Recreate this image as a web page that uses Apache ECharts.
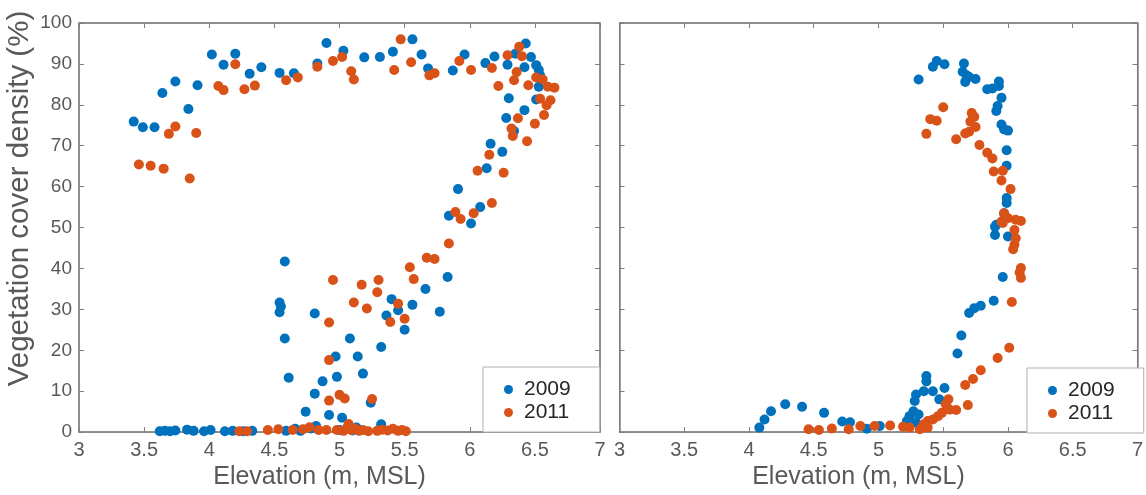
<!DOCTYPE html>
<html>
<head>
<meta charset="utf-8">
<title>Vegetation cover density vs elevation</title>
<script src="https://cdn.jsdelivr.net/npm/echarts@6/dist/echarts.min.js"></script>
<style>
    html, body { margin: 0; padding: 0; background: #fff; }
    #main { width: 1146px; height: 495px; }
</style>
</head>
<body>
<div id="main"></div>
<script>
// 数据 (elevation m, cover %)
var years = ['2009', '2011'];
var xTicks = [3, 3.5, 4, 4.5, 5, 5.5, 6, 6.5, 7];
var yTicks = [0, 10, 20, 30, 40, 50, 60, 70, 80, 90, 100];

// left panel
var left2009 = [
    [3.42, 75.9], [3.49, 74.5], [3.58, 74.5], [3.64, 82.9], [3.74, 85.7], [3.84, 79.0], [3.91, 84.8],
    [4.02, 92.3], [4.11, 89.8], [4.20, 92.5], [4.31, 87.6], [4.40, 89.2], [4.54, 87.8], [4.65, 87.7],
    [4.83, 90.1], [4.90, 95.1], [5.03, 93.2], [5.19, 91.6], [5.31, 91.7], [5.41, 93.0], [5.56, 96.0],
    [5.63, 92.3], [5.68, 88.9], [5.87, 88.4], [5.96, 92.3], [6.12, 90.2], [6.19, 91.8], [6.29, 89.8],
    [6.35, 92.5], [6.43, 95.0], [6.42, 89.2], [6.47, 91.7], [6.51, 89.7], [6.53, 88.5], [6.54, 87.2],
    [6.53, 84.4], [6.51, 81.3], [6.30, 81.6], [6.42, 78.7], [6.28, 76.8], [6.34, 73.6], [6.16, 70.5],
    [6.25, 68.5], [6.13, 64.5], [5.91, 59.4], [5.84, 52.9], [6.08, 55.0], [6.01, 51.0],
    [5.83, 37.9], [5.66, 35.0], [5.77, 29.4], [5.56, 31.1], [5.40, 32.5], [5.36, 28.5], [5.45, 29.8],
    [5.50, 25.0], [5.32, 20.8], [5.08, 22.9], [5.14, 18.5], [5.18, 14.3], [4.97, 18.5], [4.98, 13.5],
    [5.24, 7.2], [5.02, 3.5], [5.32, 1.9], [5.13, 1.1],
    [4.58, 41.7], [4.54, 31.7], [4.55, 30.7], [4.54, 29.3], [4.58, 22.9], [4.61, 13.3], [4.81, 29.0],
    [4.87, 12.4], [4.81, 9.4], [4.74, 5.0], [4.92, 4.2],
    [3.62, 0.2], [3.66, 0.3], [3.70, 0.2], [3.74, 0.4], [3.83, 0.6], [3.88, 0.3], [3.96, 0.2],
    [4.01, 0.5], [4.12, 0.2], [4.18, 0.3], [4.26, 0.2], [4.33, 0.3], [4.59, 0.3], [4.70, 0.3],
    [4.82, 1.5], [4.66, 0.8], [4.78, 0.9], [5.00, 0.5], [5.10, 0.4]
];
var left2011 = [
    [3.46, 65.4], [3.55, 65.1], [3.65, 64.4], [3.69, 72.9], [3.74, 74.7], [3.85, 62.0], [3.90, 73.1],
    [4.07, 84.6], [4.11, 83.6], [4.20, 89.9], [4.27, 83.8], [4.35, 84.7], [4.59, 86.0], [4.68, 86.7],
    [4.83, 89.3], [4.95, 90.7], [5.02, 91.7], [5.09, 88.2], [5.11, 86.2], [5.42, 88.5], [5.47, 96.0],
    [5.55, 90.4], [5.69, 87.2], [5.73, 87.7], [5.92, 90.7], [6.01, 88.5], [6.17, 89.0], [6.22, 84.6],
    [6.29, 92.1], [6.38, 94.2], [6.40, 91.9], [6.36, 88.0], [6.34, 86.0], [6.45, 84.8], [6.51, 86.7],
    [6.56, 86.2], [6.60, 84.4], [6.65, 84.2], [6.54, 81.5], [6.62, 81.1], [6.59, 79.9], [6.57, 77.5],
    [6.50, 75.4], [6.37, 76.7], [6.32, 74.2], [6.33, 72.4], [6.44, 71.1], [6.15, 67.8], [6.26, 63.4],
    [6.06, 63.9], [6.17, 56.0], [5.89, 53.8], [5.93, 52.1], [6.03, 53.5],
    [5.84, 46.1], [5.67, 42.6], [5.73, 42.3], [5.54, 40.3], [5.57, 37.4], [4.95, 37.2], [5.17, 36.0],
    [5.30, 37.2], [5.29, 34.2], [5.11, 31.7], [5.21, 30.2], [5.45, 31.4], [5.39, 26.9], [5.50, 27.7],
    [4.92, 26.8], [4.92, 17.6], [4.92, 7.7], [5.00, 9.1], [5.04, 8.2], [5.25, 8.1],
    [4.23, 0.2], [4.29, 0.2], [4.45, 0.5], [4.53, 0.7], [4.64, 0.5], [4.72, 0.7], [4.77, 1.2],
    [4.84, 0.5], [4.90, 0.5], [4.98, 0.5], [5.03, 0.3], [5.06, 1.2], [5.09, 0.5], [5.12, 0.8],
    [5.15, 0.3], [5.18, 0.5], [5.22, 0.2], [5.29, 0.3], [5.33, 0.6], [5.37, 0.4], [5.41, 0.8],
    [5.45, 0.3], [5.48, 0.5], [5.51, 0.2], [5.07, 2.0]
];

// right panel
var right2009 = [
    [4.08, 1.1], [4.12, 3.1], [4.17, 5.1], [4.28, 6.8], [4.41, 6.2], [4.58, 4.7], [4.72, 2.6],
    [4.78, 2.4], [4.91, 0.8], [5.01, 1.5], [5.20, 1.5], [5.22, 2.7], [5.24, 3.9], [5.27, 5.1],
    [5.28, 7.6], [5.29, 9.2], [5.29, 2.3], [5.31, 4.3], [5.35, 10.0], [5.37, 12.4], [5.37, 13.7],
    [5.42, 10.0], [5.47, 8.0], [5.51, 10.8], [5.61, 19.2], [5.64, 23.6], [5.70, 29.1], [5.74, 30.3],
    [5.79, 30.9], [5.89, 32.1], [5.96, 37.9], [5.90, 48.2], [5.90, 50.2], [6.00, 47.8], [5.91, 50.7],
    [5.97, 53.5], [5.99, 56.0], [5.99, 57.2], [5.99, 65.1], [5.99, 68.9], [6.00, 73.7], [5.97, 74.0],
    [5.95, 75.2], [5.91, 78.5], [5.92, 79.7], [5.95, 81.7], [5.93, 84.6], [5.93, 85.7], [5.88, 84.0],
    [5.84, 83.8], [5.75, 86.3], [5.70, 86.8], [5.67, 85.6], [5.68, 87.2], [5.65, 88.1], [5.66, 90.1],
    [5.51, 89.9], [5.45, 90.7], [5.42, 89.3], [5.31, 86.2]
];
var right2011 = [
    [4.46, 0.7], [4.54, 0.5], [4.64, 0.9], [4.77, 0.7], [4.86, 1.5], [4.97, 1.5], [5.09, 1.6],
    [5.19, 1.3], [5.24, 1.1], [5.32, 0.7], [5.35, 1.9], [5.38, 1.1], [5.38, 2.7], [5.42, 3.1],
    [5.46, 3.9], [5.49, 4.7], [5.52, 6.8], [5.54, 8.0], [5.55, 5.5], [5.60, 5.4], [5.69, 6.6],
    [5.67, 11.5], [5.73, 13.0], [5.79, 15.1], [5.92, 18.1], [6.01, 20.6], [6.03, 31.8], [6.10, 37.7],
    [6.09, 39.0], [6.10, 40.1], [6.04, 44.7], [6.05, 45.8], [6.06, 47.4], [6.05, 49.4], [5.95, 51.5],
    [5.96, 51.1], [5.97, 53.5], [6.00, 52.3], [6.06, 51.9], [6.10, 51.6], [6.02, 59.4], [5.95, 61.5],
    [5.96, 63.9], [5.89, 63.7], [5.88, 66.9], [5.84, 68.3], [5.78, 70.2], [5.67, 73.0], [5.70, 73.4],
    [5.75, 74.6], [5.71, 75.9], [5.74, 77.1], [5.72, 78.0], [5.60, 71.6], [5.37, 72.9], [5.45, 76.1],
    [5.40, 76.5], [5.50, 79.4]
];

var colors = ['#0072BD', '#D95319'];
var textColor = '#595959';
var lineColor = '#7f7f7f';

var myChart = echarts.init(document.getElementById('main'));

// x axis (bottom with labels, top mirror)
function xAxisOf(grid, pos, withLabel, withName) {
    return {
        type: 'value',
        gridIndex: grid,
        position: pos,
        min: xTicks[0],
        max: xTicks[xTicks.length - 1],
        interval: 0.5,
        name: withName ? 'Elevation (m, MSL)' : '',
        nameLocation: 'middle',
        nameGap: 31,
        nameTextStyle: {
            color: textColor,
            fontSize: 25,
            fontFamily: 'Liberation Sans',
            padding: [0, 40, 0, 0]
        },
        axisLine: { show: true, onZero: false, lineStyle: { color: lineColor, width: 1.5 } },
        axisTick: { show: true, inside: true, length: 5, lineStyle: { color: lineColor } },
        axisLabel: {
            show: withLabel,
            margin: 8,
            color: textColor,
            fontSize: 20,
            fontFamily: 'Liberation Sans'
        },
        splitLine: { show: false }
    };
}

function yAxisOf(grid, pos, withLabel, withName) {
    return {
        type: 'value',
        gridIndex: grid,
        position: pos,
        min: yTicks[0],
        max: yTicks[yTicks.length - 1],
        interval: 10,
        name: withName ? 'Vegetation cover density (%)' : '',
        nameLocation: 'middle',
        nameGap: 44,
        nameTextStyle: {
            color: textColor,
            fontSize: 29.5,
            fontFamily: 'Liberation Sans',
            padding: [0, 0, 0, 58]
        },
        axisLine: { show: true, onZero: false, lineStyle: { color: lineColor, width: 1.5 } },
        axisTick: { show: true, inside: true, length: 5, lineStyle: { color: lineColor } },
        axisLabel: {
            show: withLabel,
            margin: 7,
            color: textColor,
            fontSize: 19,
            fontFamily: 'Liberation Sans'
        },
        splitLine: { show: false }
    };
}

function legendAt(left, top) {
    return {
        left: left,
        top: top,
        orient: 'vertical',
        data: years,
        icon: 'circle',
        itemWidth: 9,
        itemHeight: 9,
        itemGap: 2,
        padding: [12, 29, 9, 21],
        backgroundColor: '#fff',
        borderColor: '#b0b0b0',
        borderWidth: 1,
        borderRadius: 0,
        selectedMode: false,
        textStyle: {
            color: '#262626',
            fontSize: 21,
            fontFamily: 'Liberation Sans',
            padding: [0, 0, 0, 6]
        }
    };
}

function scatter(name, data, idx, color) {
    return {
        name: name,
        type: 'scatter',
        xAxisIndex: idx,
        yAxisIndex: idx,
        data: data,
        symbolSize: 10,
        itemStyle: { color: color, opacity: 1 },
        emphasis: { disabled: true },
        animation: false
    };
}

option = {
    backgroundColor: '#fff',
    animation: false,
    grid: [
        { left: 79, top: 23, width: 521, height: 410, show: true, borderColor: lineColor, borderWidth: 1, backgroundColor: 'transparent' },
        { left: 619.5, top: 23, width: 521, height: 410, show: true, borderColor: lineColor, borderWidth: 1, backgroundColor: 'transparent' }
    ],
    xAxis: [
        xAxisOf(0, 'bottom', true, true),
        xAxisOf(1, 'bottom', true, true),
        xAxisOf(0, 'top', false, false),
        xAxisOf(1, 'top', false, false)
    ],
    yAxis: [
        yAxisOf(0, 'left', true, true),
        yAxisOf(1, 'left', false, false),
        yAxisOf(0, 'right', false, false),
        yAxisOf(1, 'right', false, false)
    ],
    legend: [legendAt(483, 367), legendAt(1027, 368)],
    series: [
        scatter(years[0], left2009, 0, colors[0]),
        scatter(years[1], left2011, 0, colors[1]),
        scatter(years[0], right2009, 1, colors[0]),
        scatter(years[1], right2011, 1, colors[1])
    ]
};
myChart.setOption(option);
window.addEventListener('resize', function () {
    myChart.resize();
});
</script>
</body>
</html>
